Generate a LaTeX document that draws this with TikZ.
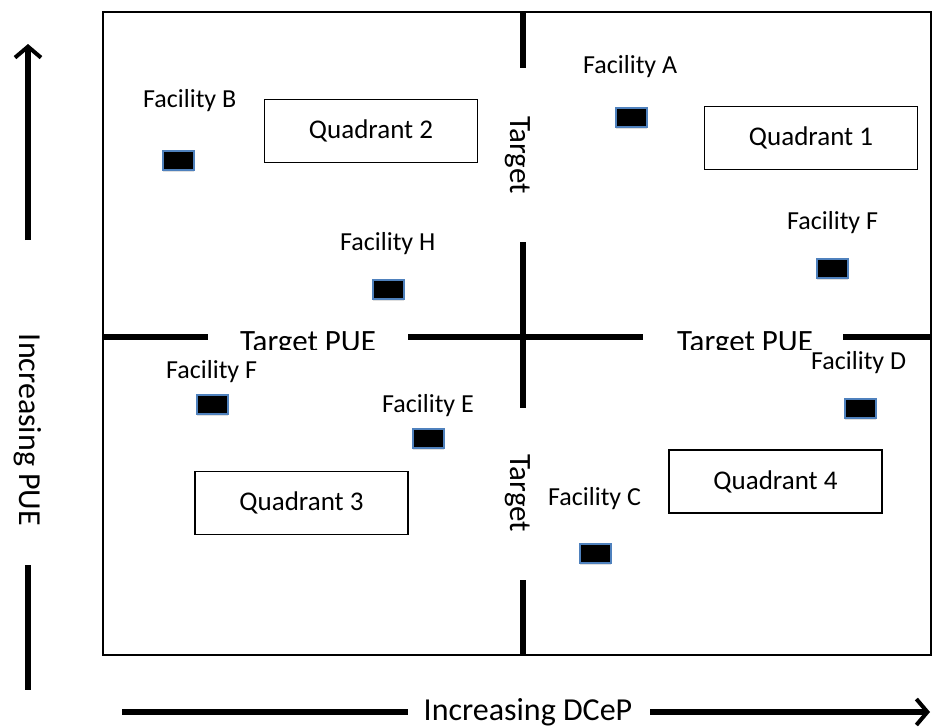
\documentclass[tikz,border=0pt]{standalone}
\usepackage{fontspec}
\setmainfont{Carlito}
\usetikzlibrary{arrows.meta,shadows}
\definecolor{siteblue}{RGB}{79,129,189}

\begin{document}
\begin{tikzpicture}[
    x=1pt, y=-1pt,
    site/.style={draw=siteblue, fill=black, line width=2pt, minimum width=31pt, minimum height=19pt, inner sep=0pt,
        drop shadow={shadow xshift=0pt, shadow yshift=-2.5pt, opacity=0.25}},
    lbl/.style={anchor=base west, inner sep=0pt, font=\fontsize{26}{31}\selectfont},
    quad/.style={draw, line width=1.5pt, minimum width=213pt, minimum height=63pt, inner sep=0pt, font=\fontsize{27}{32}\selectfont},
    target/.style={anchor=base, inner sep=0pt, font=\fontsize{31}{37}\selectfont},
    divider/.style={line width=5.5pt},
    axis/.style={line width=5.5pt, -{Straight Barb[length=11pt, width=26pt, line width=4pt]}},
    axislabel/.style={inner sep=0pt, font=\fontsize{32}{38}\selectfont}
]
\useasboundingbox (0,0) rectangle (932,728);

% frame and quadrant lines
\draw[line width=2pt] (103,12) rectangle (931,655);
\coordinate (h1) at (103,337); \coordinate (h2) at (208,337);
\coordinate (h3) at (408,337); \coordinate (h4) at (643,337);
\coordinate (h5) at (843,337); \coordinate (h6) at (932,337);
\draw[divider] (h1) -- (h2);
\draw[divider] (h3) -- (h4);
\draw[divider] (h5) -- (h6);
\coordinate (v1) at (523,12);  \coordinate (v2) at (523,68);
\coordinate (v3) at (523,242); \coordinate (v4) at (523,408);
\coordinate (v5) at (523,580); \coordinate (v6) at (523,655);
\draw[divider] (v1) -- (v2);
\draw[divider] (v3) -- (v4);
\draw[divider] (v5) -- (v6);

% target labels
\begin{scope}
\clip (200,300) rectangle (900,349);
\node[target] (tpueL) at (308,351) {Target PUE};
\node[target] (tpueR) at (745,351) {Target PUE};
\end{scope}
\node[target, rotate=-90] (tdcepT) at (510,155) {Target};
\node[target, rotate=-90] (tdcepB) at (510,493) {Target};

% quadrants
\node[quad] (q2) at (371,131) {Quadrant 2};
\node[quad] (q1) at (811,138) {Quadrant 1};
\node[quad] (q3) at (301.5,503) {Quadrant 3};
\node[quad] (q4) at (775.5,481.5) {Quadrant 4};

% facilities
\node[site] (sB) at (178,160) {};
\node[lbl] (lB) at (143,107) {Facility B};
\node[site] (sA) at (631,117) {};
\node[lbl] (lA) at (583,73) {Facility A};
\node[site] (sH) at (388,289) {};
\node[lbl] (lH) at (340,250) {Facility H};
\node[site] (sF1) at (832,268) {};
\node[lbl] (lF1) at (787,229) {Facility F};
\node[site] (sF2) at (212,404) {};
\node[lbl] (lF2) at (166,378) {Facility F};
\node[site] (sE) at (428,438) {};
\node[lbl] (lE) at (382,412) {Facility E};
\node[site] (sD) at (860,408) {};
\node[lbl] (lD) at (811,369) {Facility D};
\node[site] (sC) at (595,553) {};
\node[lbl] (lC) at (548,505) {Facility C};

% axes
\node[axislabel, rotate=-90] (pue) at (28,430) {Increasing PUE};
\coordinate (pueTop) at (28,44);
\coordinate (pueEnd) at (28,240);
\coordinate (pueLow) at (28,565);
\coordinate (pueBot) at (28,690);
\draw[axis] (pueEnd) -- (pueTop);
\draw[divider] (pueLow) -- (pueBot);
\node[axislabel] (dcep) at (528,712) {Increasing DCeP};
\coordinate (dcepL) at (122,712);
\coordinate (dcepM) at (408,712);
\coordinate (dcepS) at (650,712);
\coordinate (dcepR) at (930,712);
\draw[divider] (dcepL) -- (dcepM);
\draw[axis] (dcepS) -- (dcepR);
\end{tikzpicture}
\end{document}
